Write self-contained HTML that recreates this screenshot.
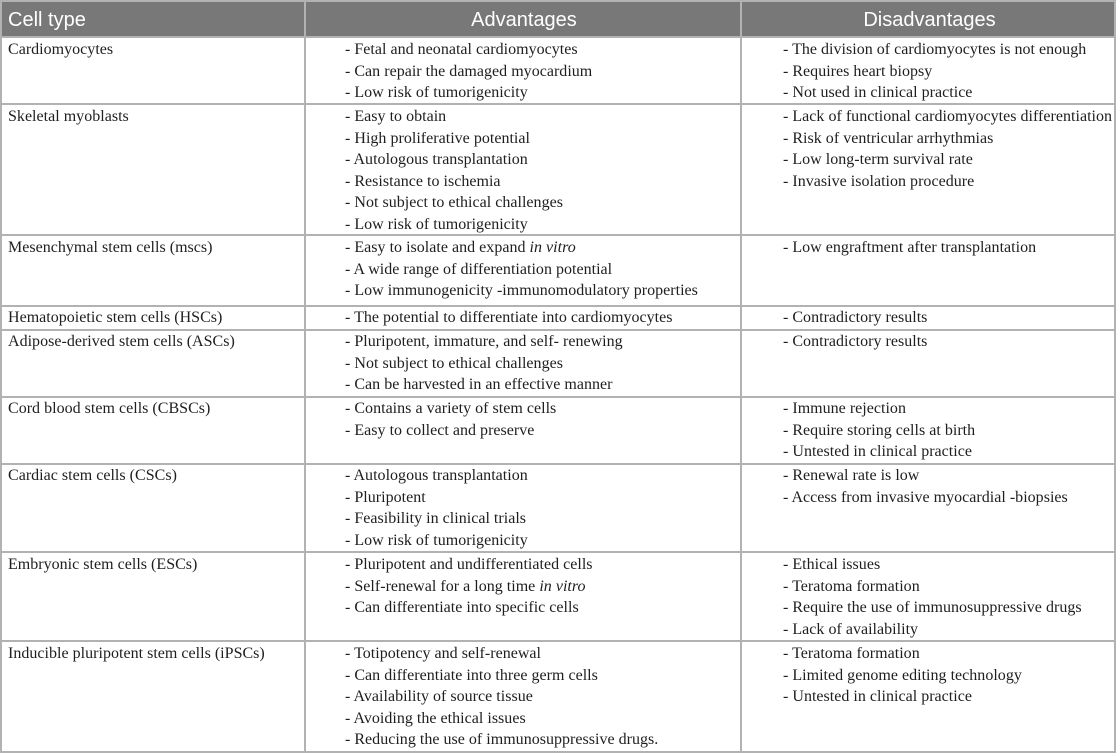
<!DOCTYPE html>
<html><head><meta charset="utf-8"><style>
html,body{margin:0;padding:0;background:#fff;width:1116px;height:754px;overflow:hidden;position:relative}
.h{position:absolute;left:0;width:1116px;height:2px;background:#b2b2b2}
.v{position:absolute;top:0;width:2px;height:753px;background:#b2b2b2}
.hd{position:absolute;left:0;top:0;width:1116px;height:36px;background:#787878}
.ht{position:absolute;top:6px;color:#fff;font-family:"Liberation Sans",sans-serif;font-size:20px;line-height:28px}
.t{position:absolute;font-family:"Liberation Serif",serif;font-size:16px;letter-spacing:0.02px;line-height:21.6px;color:#1e1e1e;white-space:nowrap}
</style></head><body>
<div class="hd"></div>
<div class="ht" style="left:8px">Cell type</div>
<div class="ht" style="left:307px;width:434px;text-align:center">Advantages</div>
<div class="ht" style="left:743px;width:373px;text-align:center">Disadvantages</div>
<div class="h" style="top:0"></div>
<div class="h" style="top:36px"></div>
<div class="h" style="top:103px"></div>
<div class="h" style="top:234px"></div>
<div class="h" style="top:305px"></div>
<div class="h" style="top:329px"></div>
<div class="h" style="top:396px"></div>
<div class="h" style="top:463px"></div>
<div class="h" style="top:551px"></div>
<div class="h" style="top:640px"></div>
<div class="h" style="top:751px"></div>
<div class="v" style="left:0"></div>
<div class="v" style="left:304px"></div>
<div class="v" style="left:740px"></div>
<div class="v" style="left:1114px"></div>

<div class="t" style="left:8px;top:39px">Cardiomyocytes</div>
<div class="t" style="left:345px;top:39px">- Fetal and neonatal cardiomyocytes<br>- Can repair the damaged myocardium<br>- Low risk of tumorigenicity</div>
<div class="t" style="left:783px;top:39px">- The division of cardiomyocytes is not enough<br>- Requires heart biopsy<br>- Not used in clinical practice</div>

<div class="t" style="left:8px;top:106px">Skeletal myoblasts</div>
<div class="t" style="left:345px;top:106px">- Easy to obtain<br>- High proliferative potential<br>- Autologous transplantation<br>- Resistance to ischemia<br>- Not subject to ethical challenges<br>- Low risk of tumorigenicity</div>
<div class="t" style="left:783px;top:106px">- Lack of functional cardiomyocytes differentiation<br>- Risk of ventricular arrhythmias<br>- Low long-term survival rate<br>- Invasive isolation procedure</div>

<div class="t" style="left:8px;top:237px">Mesenchymal stem cells (mscs)</div>
<div class="t" style="left:345px;top:237px">- Easy to isolate and expand <i>in vitro</i><br>- A wide range of differentiation potential<br>- Low immunogenicity -immunomodulatory properties</div>
<div class="t" style="left:783px;top:237px">- Low engraftment after transplantation</div>

<div class="t" style="left:8px;top:307px">Hematopoietic stem cells (HSCs)</div>
<div class="t" style="left:345px;top:307px">- The potential to differentiate into cardiomyocytes</div>
<div class="t" style="left:783px;top:307px">- Contradictory results</div>

<div class="t" style="left:8px;top:331px">Adipose-derived stem cells (ASCs)</div>
<div class="t" style="left:345px;top:331px">- Pluripotent, immature, and self- renewing<br>- Not subject to ethical challenges<br>- Can be harvested in an effective manner</div>
<div class="t" style="left:783px;top:331px">- Contradictory results</div>

<div class="t" style="left:8px;top:398px">Cord blood stem cells (CBSCs)</div>
<div class="t" style="left:345px;top:398px">- Contains a variety of stem cells<br>- Easy to collect and preserve</div>
<div class="t" style="left:783px;top:398px">- Immune rejection<br>- Require storing cells at birth<br>- Untested in clinical practice</div>

<div class="t" style="left:8px;top:465px">Cardiac stem cells (CSCs)</div>
<div class="t" style="left:345px;top:465px">- Autologous transplantation<br>- Pluripotent<br>- Feasibility in clinical trials<br>- Low risk of tumorigenicity</div>
<div class="t" style="left:783px;top:465px">- Renewal rate is low<br>- Access from invasive myocardial -biopsies</div>

<div class="t" style="left:8px;top:554px">Embryonic stem cells (ESCs)</div>
<div class="t" style="left:345px;top:554px">- Pluripotent and undifferentiated cells<br>- Self-renewal for a long time <i>in vitro</i><br>- Can differentiate into specific cells</div>
<div class="t" style="left:783px;top:554px">- Ethical issues<br>- Teratoma formation<br>- Require the use of immunosuppressive drugs<br>- Lack of availability</div>

<div class="t" style="left:8px;top:643px">Inducible pluripotent stem cells (iPSCs)</div>
<div class="t" style="left:345px;top:643px">- Totipotency and self-renewal<br>- Can differentiate into three germ cells<br>- Availability of source tissue<br>- Avoiding the ethical issues<br>- Reducing the use of immunosuppressive drugs.</div>
<div class="t" style="left:783px;top:643px">- Teratoma formation<br>- Limited genome editing technology<br>- Untested in clinical practice</div>
</body></html>
